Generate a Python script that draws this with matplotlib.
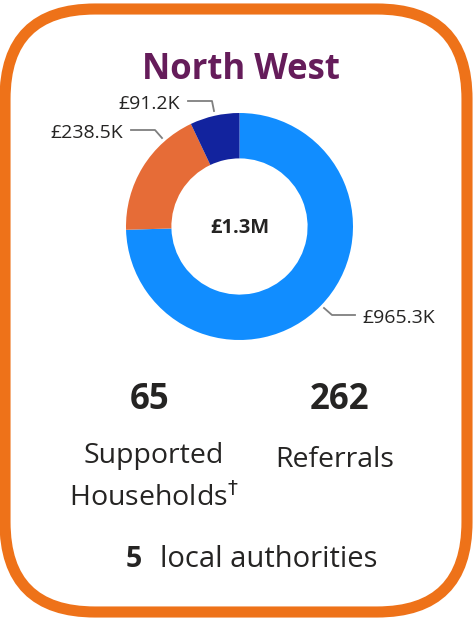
import matplotlib
matplotlib.use("Agg")
import matplotlib.pyplot as plt
from matplotlib.patches import FancyBboxPatch

# ---- data ----
segment_values = [965.3, 238.5, 91.2]
segment_labels = ["£965.3K", "£238.5K", "£91.2K"]
segment_colors = ["#118DFF", "#E66C37", "#12239E"]
total_label = "£1.3M"
region_name = "North West"
households = 65
referrals = 262
local_authorities = 5

plt.rcParams["font.family"] = ["Open Sans", "DejaVu Sans"]
text_col = "#252423"

W, H = 477, 619
fig = plt.figure(figsize=(W / 100, H / 100), dpi=100)

# overlay in pixel coordinates (y downwards)
ov = fig.add_axes([0, 0, 1, 1])
ov.set_xlim(0, W)
ov.set_ylim(H, 0)
ov.axis("off")

border = FancyBboxPatch((5, 9), 462, 603, boxstyle="round,pad=0,rounding_size=90",
                        fill=False, edgecolor="#EE7219", linewidth=8)
ov.add_patch(border)

ov.text(241, 70, region_name, ha="center", va="center", fontsize=25,
        fontweight="bold", color="#651C5A")

# donut
cx, cy, r = 239.5, 226.5, 113.5
lim = 1.25
side = 2 * lim * r
pax = fig.add_axes([(cx - side / 2) / W, (H - cy - side / 2) / H, side / W, side / H])
pax.pie(segment_values, colors=segment_colors, startangle=90, counterclock=False,
        radius=1, wedgeprops=dict(width=0.40, linewidth=0))
pax.set_xlim(-lim, lim)
pax.set_ylim(-lim, lim)
pax.set_aspect("equal")
pax.axis("off")
pax.text(0, -0.01, total_label, ha="center", va="center", fontsize=14.5,
         fontweight="bold", color=text_col)

# leader lines and value labels (pixel space)
lc = "#7F7F7F"
ov.plot([324, 332, 355], [308, 315, 315], color=lc, lw=1.3)
ov.text(362, 318, segment_labels[0], ha="left", va="center", fontsize=14, color=text_col)
ov.plot([131, 155, 162], [130, 130, 138], color=lc, lw=1.3)
ov.text(123, 133, segment_labels[1], ha="right", va="center", fontsize=14, color=text_col)
ov.plot([188, 212, 214], [101, 101, 111], color=lc, lw=1.3)
ov.text(180, 104, segment_labels[2], ha="right", va="center", fontsize=14, color=text_col)

# KPI numbers
ov.text(150, 400, str(households), ha="center", va="center", fontsize=25,
        fontweight="bold", color=text_col)
ov.text(340, 400, str(referrals), ha="center", va="center", fontsize=25,
        fontweight="bold", color=text_col)
ov.text(154, 463, "Supported", ha="center", va="baseline", fontsize=20.5, color=text_col)
ov.text(154, 506, "Households$^{\\dagger}$", ha="center", va="baseline", fontsize=20.5,
        color=text_col)
ov.text(335, 467, "Referrals", ha="center", va="baseline", fontsize=20.5, color=text_col)

ov.text(134, 567, str(local_authorities), ha="center", va="baseline", fontsize=20.5,
        fontweight="bold", color=text_col)
ov.text(160, 567, "local authorities", ha="left", va="baseline", fontsize=21,
        color=text_col)

fig.savefig("out.png", dpi=100)
